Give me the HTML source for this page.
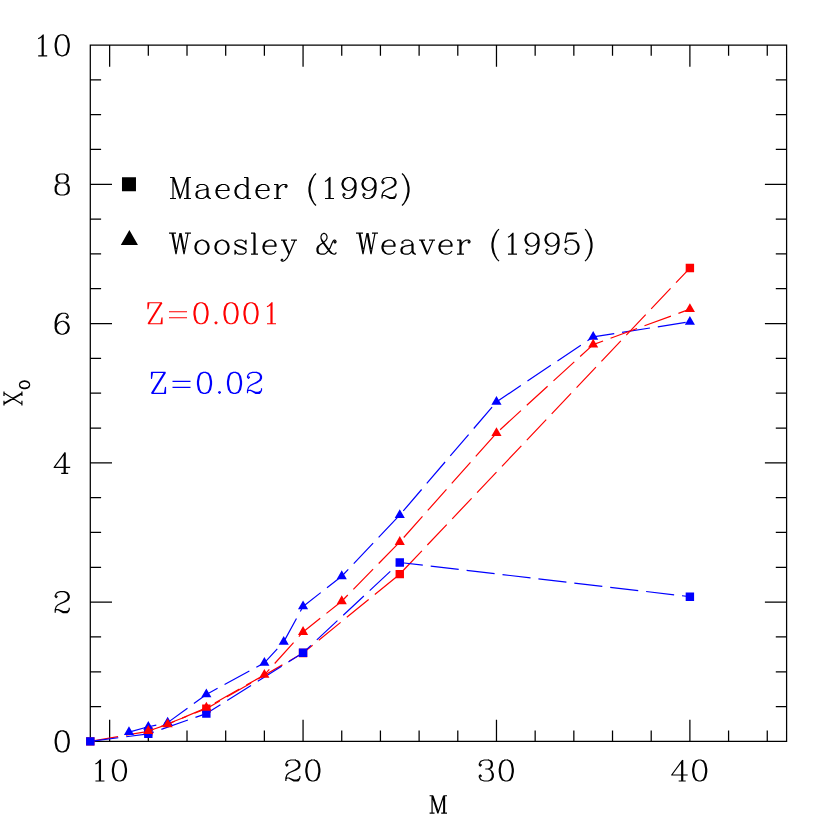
<!DOCTYPE html>
<html><head><meta charset="utf-8"><title>X_O vs M</title>
<style>html,body{margin:0;padding:0;background:#fff;font-family:"Liberation Sans",sans-serif}svg{display:block}</style></head>
<body>
<svg width="830" height="830" viewBox="0 0 830 830">
<rect width="830" height="830" fill="#fff"/>
<path d="M90.3 45H786.6V741.4H90.3ZM109.64 741.4v-21.7M109.64 45v21.7M148.32 741.4v-10.8M148.32 45v10.8M187.01 741.4v-10.8M187.01 45v10.8M225.69 741.4v-10.8M225.69 45v10.8M264.38 741.4v-10.8M264.38 45v10.8M303.06 741.4v-21.7M303.06 45v21.7M341.74 741.4v-10.8M341.74 45v10.8M380.43 741.4v-10.8M380.43 45v10.8M419.11 741.4v-10.8M419.11 45v10.8M457.79 741.4v-10.8M457.79 45v10.8M496.48 741.4v-21.7M496.48 45v21.7M535.16 741.4v-10.8M535.16 45v10.8M573.84 741.4v-10.8M573.84 45v10.8M612.52 741.4v-10.8M612.52 45v10.8M651.21 741.4v-10.8M651.21 45v10.8M689.89 741.4v-21.7M689.89 45v21.7M728.58 741.4v-10.8M728.58 45v10.8M767.26 741.4v-10.8M767.26 45v10.8M90.3 706.58h10.8M786.6 706.58h-10.8M90.3 671.76h10.8M786.6 671.76h-10.8M90.3 636.94h10.8M786.6 636.94h-10.8M90.3 602.12h21.7M786.6 602.12h-21.7M90.3 567.3h10.8M786.6 567.3h-10.8M90.3 532.48h10.8M786.6 532.48h-10.8M90.3 497.66h10.8M786.6 497.66h-10.8M90.3 462.84h21.7M786.6 462.84h-21.7M90.3 428.02h10.8M786.6 428.02h-10.8M90.3 393.2h10.8M786.6 393.2h-10.8M90.3 358.38h10.8M786.6 358.38h-10.8M90.3 323.56h21.7M786.6 323.56h-21.7M90.3 288.74h10.8M786.6 288.74h-10.8M90.3 253.92h10.8M786.6 253.92h-10.8M90.3 219.1h10.8M786.6 219.1h-10.8M90.3 184.28h21.7M786.6 184.28h-21.7M90.3 149.46h10.8M786.6 149.46h-10.8M90.3 114.64h10.8M786.6 114.64h-10.8M90.3 79.82h10.8M786.6 79.82h-10.8" fill="none" stroke="#000" stroke-width="1.25" stroke-linecap="butt" stroke-linejoin="miter"/>
<path d="M95.44 764 97.44 763 100.44 760 100.44 781M99.44 761 99.44 781M95.44 781 104.44 781M118.44 760 115.44 761 113.44 764 112.44 769 112.44 772 113.44 777 115.44 780 118.44 781 120.44 781 123.44 780 125.44 777 126.44 772 126.44 769 125.44 764 123.44 761 120.44 760 118.44 760M118.44 760 116.44 761 115.44 762 114.44 764 113.44 769 113.44 772 114.44 777 115.44 779 116.44 780 118.44 781M120.44 781 122.44 780 123.44 779 124.44 777 125.44 772 125.44 769 124.44 764 123.44 762 122.44 761 120.44 760M286.86 764 287.86 765 286.86 766 285.86 765 285.86 764 286.86 762 287.86 761 290.86 760 294.86 760 297.86 761 298.86 762 299.86 764 299.86 766 298.86 768 295.86 770 290.86 772 288.86 773 286.86 775 285.86 778 285.86 781M294.86 760 296.86 761 297.86 762 298.86 764 298.86 766 297.86 768 294.86 770 290.86 772M285.86 779 286.86 778 288.86 778 293.86 780 296.86 780 298.86 779 299.86 778M288.86 778 293.86 781 297.86 781 298.86 780 299.86 778 299.86 776M311.86 760 308.86 761 306.86 764 305.86 769 305.86 772 306.86 777 308.86 780 311.86 781 313.86 781 316.86 780 318.86 777 319.86 772 319.86 769 318.86 764 316.86 761 313.86 760 311.86 760M311.86 760 309.86 761 308.86 762 307.86 764 306.86 769 306.86 772 307.86 777 308.86 779 309.86 780 311.86 781M313.86 781 315.86 780 316.86 779 317.86 777 318.86 772 318.86 769 317.86 764 316.86 762 315.86 761 313.86 760M480.28 764 481.28 765 480.28 766 479.28 765 479.28 764 480.28 762 481.28 761 484.28 760 488.28 760 491.28 761 492.28 763 492.28 766 491.28 768 488.28 769 485.28 769M488.28 760 490.28 761 491.28 763 491.28 766 490.28 768 488.28 769M488.28 769 490.28 770 492.28 772 493.28 774 493.28 777 492.28 779 491.28 780 488.28 781 484.28 781 481.28 780 480.28 779 479.28 777 479.28 776 480.28 775 481.28 776 480.28 777M491.28 771 492.28 774 492.28 777 491.28 779 490.28 780 488.28 781M505.28 760 502.28 761 500.28 764 499.28 769 499.28 772 500.28 777 502.28 780 505.28 781 507.28 781 510.28 780 512.28 777 513.28 772 513.28 769 512.28 764 510.28 761 507.28 760 505.28 760M505.28 760 503.28 761 502.28 762 501.28 764 500.28 769 500.28 772 501.28 777 502.28 779 503.28 780 505.28 781M507.28 781 509.28 780 510.28 779 511.28 777 512.28 772 512.28 769 511.28 764 510.28 762 509.28 761 507.28 760M681.69 762 681.69 781M682.69 760 682.69 781M682.69 760 671.69 775 687.69 775M678.69 781 685.69 781M698.69 760 695.69 761 693.69 764 692.69 769 692.69 772 693.69 777 695.69 780 698.69 781 700.69 781 703.69 780 705.69 777 706.69 772 706.69 769 705.69 764 703.69 761 700.69 760 698.69 760M698.69 760 696.69 761 695.69 762 694.69 764 693.69 769 693.69 772 694.69 777 695.69 779 696.69 780 698.69 781M700.69 781 702.69 780 703.69 779 704.69 777 705.69 772 705.69 769 704.69 764 703.69 762 702.69 761 700.69 760M61.2 730.9 58.2 731.9 56.2 734.9 55.2 739.9 55.2 742.9 56.2 747.9 58.2 750.9 61.2 751.9 63.2 751.9 66.2 750.9 68.2 747.9 69.2 742.9 69.2 739.9 68.2 734.9 66.2 731.9 63.2 730.9 61.2 730.9M61.2 730.9 59.2 731.9 58.2 732.9 57.2 734.9 56.2 739.9 56.2 742.9 57.2 747.9 58.2 749.9 59.2 750.9 61.2 751.9M63.2 751.9 65.2 750.9 66.2 749.9 67.2 747.9 68.2 742.9 68.2 739.9 67.2 734.9 66.2 732.9 65.2 731.9 63.2 730.9M56.2 595.68 57.2 596.68 56.2 597.68 55.2 596.68 55.2 595.68 56.2 593.68 57.2 592.68 60.2 591.68 64.2 591.68 67.2 592.68 68.2 593.68 69.2 595.68 69.2 597.68 68.2 599.68 65.2 601.68 60.2 603.68 58.2 604.68 56.2 606.68 55.2 609.68 55.2 612.68M64.2 591.68 66.2 592.68 67.2 593.68 68.2 595.68 68.2 597.68 67.2 599.68 64.2 601.68 60.2 603.68M55.2 610.68 56.2 609.68 58.2 609.68 63.2 611.68 66.2 611.68 68.2 610.68 69.2 609.68M58.2 609.68 63.2 612.68 67.2 612.68 68.2 611.68 69.2 609.68 69.2 607.68M64.2 454.46 64.2 473.46M65.2 452.46 65.2 473.46M65.2 452.46 54.2 467.46 70.2 467.46M61.2 473.46 68.2 473.46M67.2 316.24 66.2 317.24 67.2 318.24 68.2 317.24 68.2 316.24 67.2 314.24 65.2 313.24 62.2 313.24 59.2 314.24 57.2 316.24 56.2 318.24 55.2 322.24 55.2 328.24 56.2 331.24 58.2 333.24 61.2 334.24 63.2 334.24 66.2 333.24 68.2 331.24 69.2 328.24 69.2 327.24 68.2 324.24 66.2 322.24 63.2 321.24 62.2 321.24 59.2 322.24 57.2 324.24 56.2 327.24M62.2 313.24 60.2 314.24 58.2 316.24 57.2 318.24 56.2 322.24 56.2 328.24 57.2 331.24 59.2 333.24 61.2 334.24M63.2 334.24 65.2 333.24 67.2 331.24 68.2 328.24 68.2 327.24 67.2 324.24 65.2 322.24 63.2 321.24M60.2 174.02 57.2 175.02 56.2 177.02 56.2 180.02 57.2 182.02 60.2 183.02 64.2 183.02 67.2 182.02 68.2 180.02 68.2 177.02 67.2 175.02 64.2 174.02 60.2 174.02M60.2 174.02 58.2 175.02 57.2 177.02 57.2 180.02 58.2 182.02 60.2 183.02M64.2 183.02 66.2 182.02 67.2 180.02 67.2 177.02 66.2 175.02 64.2 174.02M60.2 183.02 57.2 184.02 56.2 185.02 55.2 187.02 55.2 191.02 56.2 193.02 57.2 194.02 60.2 195.02 64.2 195.02 67.2 194.02 68.2 193.02 69.2 191.02 69.2 187.02 68.2 185.02 67.2 184.02 64.2 183.02M60.2 183.02 58.2 184.02 57.2 185.02 56.2 187.02 56.2 191.02 57.2 193.02 58.2 194.02 60.2 195.02M64.2 195.02 66.2 194.02 67.2 193.02 68.2 191.02 68.2 187.02 67.2 185.02 66.2 184.02 64.2 183.02M38.2 38.8 40.2 37.8 43.2 34.8 43.2 55.8M42.2 35.8 42.2 55.8M38.2 55.8 47.2 55.8M61.2 34.8 58.2 35.8 56.2 38.8 55.2 43.8 55.2 46.8 56.2 51.8 58.2 54.8 61.2 55.8 63.2 55.8 66.2 54.8 68.2 51.8 69.2 46.8 69.2 43.8 68.2 38.8 66.2 35.8 63.2 34.8 61.2 34.8M61.2 34.8 59.2 35.8 58.2 36.8 57.2 38.8 56.2 43.8 56.2 46.8 57.2 51.8 58.2 53.8 59.2 54.8 61.2 55.8M63.2 55.8 65.2 54.8 66.2 53.8 67.2 51.8 68.2 46.8 68.2 43.8 67.2 38.8 66.2 36.8 65.2 35.8 63.2 34.8M432.07 795.77 432.07 813.2M432.91 795.77 437.88 810.71M432.07 795.77 437.88 813.2M443.69 795.77 437.88 813.2M443.69 795.77 443.69 813.2M444.53 795.77 444.53 813.2M429.59 795.77 432.91 795.77M443.69 795.77 447.01 795.77M429.59 813.2 434.56 813.2M441.2 813.2 447.01 813.2M173 177.5 173 198.5M174 177.5 180 195.5M173 177.5 180 198.5M187 177.5 180 198.5M187 177.5 187 198.5M188 177.5 188 198.5M170 177.5 174 177.5M187 177.5 191 177.5M170 198.5 176 198.5M184 198.5 191 198.5M198 186.5 198 187.5 197 187.5 197 186.5 198 185.5 200 184.5 204 184.5 206 185.5 207 186.5 208 188.5 208 195.5 209 197.5 210 198.5M207 186.5 207 195.5 208 197.5 210 198.5 211 198.5M207 188.5 206 189.5 200 190.5 197 191.5 196 193.5 196 195.5 197 197.5 200 198.5 203 198.5 205 197.5 207 195.5M200 190.5 198 191.5 197 193.5 197 195.5 198 197.5 200 198.5M217 190.5 229 190.5 229 188.5 228 186.5 227 185.5 225 184.5 222 184.5 219 185.5 217 187.5 216 190.5 216 192.5 217 195.5 219 197.5 222 198.5 224 198.5 227 197.5 229 195.5M228 190.5 228 187.5 227 185.5M222 184.5 220 185.5 218 187.5 217 190.5 217 192.5 218 195.5 220 197.5 222 198.5M247 177.5 247 198.5M248 177.5 248 198.5M247 187.5 245 185.5 243 184.5 241 184.5 238 185.5 236 187.5 235 190.5 235 192.5 236 195.5 238 197.5 241 198.5 243 198.5 245 197.5 247 195.5M241 184.5 239 185.5 237 187.5 236 190.5 236 192.5 237 195.5 239 197.5 241 198.5M244 177.5 248 177.5M247 198.5 251 198.5M257 190.5 269 190.5 269 188.5 268 186.5 267 185.5 265 184.5 262 184.5 259 185.5 257 187.5 256 190.5 256 192.5 257 195.5 259 197.5 262 198.5 264 198.5 267 197.5 269 195.5M268 190.5 268 187.5 267 185.5M262 184.5 260 185.5 258 187.5 257 190.5 257 192.5 258 195.5 260 197.5 262 198.5M277 184.5 277 198.5M278 184.5 278 198.5M278 190.5 279 187.5 281 185.5 283 184.5 286 184.5 287 185.5 287 186.5 286 187.5 285 186.5 286 185.5M274 184.5 278 184.5M274 198.5 281 198.5M316 173.5 314 175.5 312 178.5 310 182.5 309 187.5 309 191.5 310 196.5 312 200.5 314 203.5 316 205.5M314 175.5 312 179.5 311 182.5 310 187.5 310 191.5 311 196.5 312 199.5 314 203.5M325 181.5 327 180.5 330 177.5 330 198.5M329 178.5 329 198.5M325 198.5 334 198.5M355 184.5 354 187.5 352 189.5 349 190.5 348 190.5 345 189.5 343 187.5 342 184.5 342 183.5 343 180.5 345 178.5 348 177.5 350 177.5 353 178.5 355 180.5 356 183.5 356 189.5 355 193.5 354 195.5 352 197.5 349 198.5 346 198.5 344 197.5 343 195.5 343 194.5 344 193.5 345 194.5 344 195.5M348 190.5 346 189.5 344 187.5 343 184.5 343 183.5 344 180.5 346 178.5 348 177.5M350 177.5 352 178.5 354 180.5 355 183.5 355 189.5 354 193.5 353 195.5 351 197.5 349 198.5M375 184.5 374 187.5 372 189.5 369 190.5 368 190.5 365 189.5 363 187.5 362 184.5 362 183.5 363 180.5 365 178.5 368 177.5 370 177.5 373 178.5 375 180.5 376 183.5 376 189.5 375 193.5 374 195.5 372 197.5 369 198.5 366 198.5 364 197.5 363 195.5 363 194.5 364 193.5 365 194.5 364 195.5M368 190.5 366 189.5 364 187.5 363 184.5 363 183.5 364 180.5 366 178.5 368 177.5M370 177.5 372 178.5 374 180.5 375 183.5 375 189.5 374 193.5 373 195.5 371 197.5 369 198.5M383 181.5 384 182.5 383 183.5 382 182.5 382 181.5 383 179.5 384 178.5 387 177.5 391 177.5 394 178.5 395 179.5 396 181.5 396 183.5 395 185.5 392 187.5 387 189.5 385 190.5 383 192.5 382 195.5 382 198.5M391 177.5 393 178.5 394 179.5 395 181.5 395 183.5 394 185.5 391 187.5 387 189.5M382 196.5 383 195.5 385 195.5 390 197.5 393 197.5 395 196.5 396 195.5M385 195.5 390 198.5 394 198.5 395 197.5 396 195.5 396 193.5M402 173.5 404 175.5 406 178.5 408 182.5 409 187.5 409 191.5 408 196.5 406 200.5 404 203.5 402 205.5M404 175.5 406 179.5 407 182.5 408 187.5 408 191.5 407 196.5 406 199.5 404 203.5M172 233.2 176 254.2M173 233.2 176 249.2M180 233.2 176 254.2M180 233.2 184 254.2M181 233.2 184 249.2M188 233.2 184 254.2M169 233.2 176 233.2M185 233.2 191 233.2M201 240.2 198 241.2 196 243.2 195 246.2 195 248.2 196 251.2 198 253.2 201 254.2 203 254.2 206 253.2 208 251.2 209 248.2 209 246.2 208 243.2 206 241.2 203 240.2 201 240.2M201 240.2 199 241.2 197 243.2 196 246.2 196 248.2 197 251.2 199 253.2 201 254.2M203 254.2 205 253.2 207 251.2 208 248.2 208 246.2 207 243.2 205 241.2 203 240.2M221 240.2 218 241.2 216 243.2 215 246.2 215 248.2 216 251.2 218 253.2 221 254.2 223 254.2 226 253.2 228 251.2 229 248.2 229 246.2 228 243.2 226 241.2 223 240.2 221 240.2M221 240.2 219 241.2 217 243.2 216 246.2 216 248.2 217 251.2 219 253.2 221 254.2M223 254.2 225 253.2 227 251.2 228 248.2 228 246.2 227 243.2 225 241.2 223 240.2M245 242.2 246 240.2 246 244.2 245 242.2 244 241.2 242 240.2 238 240.2 236 241.2 235 242.2 235 244.2 236 245.2 238 246.2 243 248.2 245 249.2 246 250.2M235 243.2 236 244.2 238 245.2 243 247.2 245 248.2 246 249.2 246 252.2 245 253.2 243 254.2 239 254.2 237 253.2 236 252.2 235 250.2 235 254.2 236 252.2M254 233.2 254 254.2M255 233.2 255 254.2M251 233.2 255 233.2M251 254.2 258 254.2M264 246.2 276 246.2 276 244.2 275 242.2 274 241.2 272 240.2 269 240.2 266 241.2 264 243.2 263 246.2 263 248.2 264 251.2 266 253.2 269 254.2 271 254.2 274 253.2 276 251.2M275 246.2 275 243.2 274 241.2M269 240.2 267 241.2 265 243.2 264 246.2 264 248.2 265 251.2 267 253.2 269 254.2M283 240.2 289 254.2M284 240.2 289 252.2M295 240.2 289 254.2 287 258.2 285 260.2 283 261.2 282 261.2 281 260.2 282 259.2 283 260.2M281 240.2 287 240.2M291 240.2 297 240.2M335 241.2 334 242.2 335 243.2 336 242.2 336 241.2 335 240.2 334 240.2 333 241.2 332 243.2 330 248.2 328 251.2 326 253.2 324 254.2 321 254.2 318 253.2 317 251.2 317 248.2 318 246.2 324 242.2 326 240.2 327 238.2 327 236.2 326 234.2 324 233.2 322 234.2 321 236.2 321 238.2 322 241.2 324 244.2 329 251.2 331 253.2 334 254.2 335 254.2 336 253.2 336 252.2M321 254.2 319 253.2 318 251.2 318 248.2 319 246.2 321 244.2M321 238.2 322 240.2 330 251.2 332 253.2 334 254.2M359 233.2 363 254.2M360 233.2 363 249.2M367 233.2 363 254.2M367 233.2 371 254.2M368 233.2 371 249.2M375 233.2 371 254.2M356 233.2 363 233.2M372 233.2 378 233.2M383 246.2 395 246.2 395 244.2 394 242.2 393 241.2 391 240.2 388 240.2 385 241.2 383 243.2 382 246.2 382 248.2 383 251.2 385 253.2 388 254.2 390 254.2 393 253.2 395 251.2M394 246.2 394 243.2 393 241.2M388 240.2 386 241.2 384 243.2 383 246.2 383 248.2 384 251.2 386 253.2 388 254.2M403 242.2 403 243.2 402 243.2 402 242.2 403 241.2 405 240.2 409 240.2 411 241.2 412 242.2 413 244.2 413 251.2 414 253.2 415 254.2M412 242.2 412 251.2 413 253.2 415 254.2 416 254.2M412 244.2 411 245.2 405 246.2 402 247.2 401 249.2 401 251.2 402 253.2 405 254.2 408 254.2 410 253.2 412 251.2M405 246.2 403 247.2 402 249.2 402 251.2 403 253.2 405 254.2M421 240.2 427 254.2M422 240.2 427 252.2M433 240.2 427 254.2M419 240.2 425 240.2M429 240.2 435 240.2M440 246.2 452 246.2 452 244.2 451 242.2 450 241.2 448 240.2 445 240.2 442 241.2 440 243.2 439 246.2 439 248.2 440 251.2 442 253.2 445 254.2 447 254.2 450 253.2 452 251.2M451 246.2 451 243.2 450 241.2M445 240.2 443 241.2 441 243.2 440 246.2 440 248.2 441 251.2 443 253.2 445 254.2M460 240.2 460 254.2M461 240.2 461 254.2M461 246.2 462 243.2 464 241.2 466 240.2 469 240.2 470 241.2 470 242.2 469 243.2 468 242.2 469 241.2M457 240.2 461 240.2M457 254.2 464 254.2M499 229.2 497 231.2 495 234.2 493 238.2 492 243.2 492 247.2 493 252.2 495 256.2 497 259.2 499 261.2M497 231.2 495 235.2 494 238.2 493 243.2 493 247.2 494 252.2 495 255.2 497 259.2M508 237.2 510 236.2 513 233.2 513 254.2M512 234.2 512 254.2M508 254.2 517 254.2M538 240.2 537 243.2 535 245.2 532 246.2 531 246.2 528 245.2 526 243.2 525 240.2 525 239.2 526 236.2 528 234.2 531 233.2 533 233.2 536 234.2 538 236.2 539 239.2 539 245.2 538 249.2 537 251.2 535 253.2 532 254.2 529 254.2 527 253.2 526 251.2 526 250.2 527 249.2 528 250.2 527 251.2M531 246.2 529 245.2 527 243.2 526 240.2 526 239.2 527 236.2 529 234.2 531 233.2M533 233.2 535 234.2 537 236.2 538 239.2 538 245.2 537 249.2 536 251.2 534 253.2 532 254.2M558 240.2 557 243.2 555 245.2 552 246.2 551 246.2 548 245.2 546 243.2 545 240.2 545 239.2 546 236.2 548 234.2 551 233.2 553 233.2 556 234.2 558 236.2 559 239.2 559 245.2 558 249.2 557 251.2 555 253.2 552 254.2 549 254.2 547 253.2 546 251.2 546 250.2 547 249.2 548 250.2 547 251.2M551 246.2 549 245.2 547 243.2 546 240.2 546 239.2 547 236.2 549 234.2 551 233.2M553 233.2 555 234.2 557 236.2 558 239.2 558 245.2 557 249.2 556 251.2 554 253.2 552 254.2M567 233.2 565 243.2M565 243.2 567 241.2 570 240.2 573 240.2 576 241.2 578 243.2 579 246.2 579 248.2 578 251.2 576 253.2 573 254.2 570 254.2 567 253.2 566 252.2 565 250.2 565 249.2 566 248.2 567 249.2 566 250.2M573 240.2 575 241.2 577 243.2 578 246.2 578 248.2 577 251.2 575 253.2 573 254.2M567 233.2 577 233.2M567 234.2 572 234.2 577 233.2M585 229.2 587 231.2 589 234.2 591 238.2 592 243.2 592 247.2 591 252.2 589 256.2 587 259.2 585 261.2M587 231.2 589 235.2 590 238.2 591 243.2 591 247.2 590 252.2 589 255.2 587 259.2" fill="none" stroke="#000" stroke-width="1.2" stroke-linecap="butt" stroke-linejoin="round"/>
<g transform="translate(21.93 406.3) rotate(-90)" fill="none" stroke="#000" stroke-width="1.2" stroke-linecap="butt" stroke-linejoin="round"><path d="M2.35 -17.95 12.56 0M3.14 -17.95 13.35 0M13.35 -17.95 2.35 0M0.79 -17.95 5.5 -17.95M10.21 -17.95 14.92 -17.95M0.79 0 5.5 0M10.21 0 14.92 0"/><path transform="translate(16.21 7.66)" d="M4.8 -10.08 3.36 -9.6 2.4 -8.64 1.92 -7.68 1.44 -5.76 1.44 -4.32 1.92 -2.4 2.4 -1.44 3.36 -0.48 4.8 0 5.76 0 7.2 -0.48 8.16 -1.44 8.64 -2.4 9.12 -4.32 9.12 -5.76 8.64 -7.68 8.16 -8.64 7.2 -9.6 5.76 -10.08 4.8 -10.08M4.8 -10.08 3.84 -9.6 2.88 -8.64 2.4 -7.68 1.92 -5.76 1.92 -4.32 2.4 -2.4 2.88 -1.44 3.84 -0.48 4.8 0M5.76 0 6.72 -0.48 7.68 -1.44 8.16 -2.4 8.64 -4.32 8.64 -5.76 8.16 -7.68 7.68 -8.64 6.72 -9.6 5.76 -10.08"/></g>
<path d="M161 302.74 148 323.74M162 302.74 149 323.74M149 302.74 148 308.74 148 302.74 162 302.74M148 323.74 162 323.74 162 317.74 161 323.74M169 311.74 187 311.74M169 317.74 187 317.74M200 302.74 197 303.74 195 306.74 194 311.74 194 314.74 195 319.74 197 322.74 200 323.74 202 323.74 205 322.74 207 319.74 208 314.74 208 311.74 207 306.74 205 303.74 202 302.74 200 302.74M200 302.74 198 303.74 197 304.74 196 306.74 195 311.74 195 314.74 196 319.74 197 321.74 198 322.74 200 323.74M202 323.74 204 322.74 205 321.74 206 319.74 207 314.74 207 311.74 206 306.74 205 304.74 204 303.74 202 302.74M216 321.74 215 322.74 216 323.74 217 322.74 216 321.74M230 302.74 227 303.74 225 306.74 224 311.74 224 314.74 225 319.74 227 322.74 230 323.74 232 323.74 235 322.74 237 319.74 238 314.74 238 311.74 237 306.74 235 303.74 232 302.74 230 302.74M230 302.74 228 303.74 227 304.74 226 306.74 225 311.74 225 314.74 226 319.74 227 321.74 228 322.74 230 323.74M232 323.74 234 322.74 235 321.74 236 319.74 237 314.74 237 311.74 236 306.74 235 304.74 234 303.74 232 302.74M250 302.74 247 303.74 245 306.74 244 311.74 244 314.74 245 319.74 247 322.74 250 323.74 252 323.74 255 322.74 257 319.74 258 314.74 258 311.74 257 306.74 255 303.74 252 302.74 250 302.74M250 302.74 248 303.74 247 304.74 246 306.74 245 311.74 245 314.74 246 319.74 247 321.74 248 322.74 250 323.74M252 323.74 254 322.74 255 321.74 256 319.74 257 314.74 257 311.74 256 306.74 255 304.74 254 303.74 252 302.74M267 306.74 269 305.74 272 302.74 272 323.74M271 303.74 271 323.74M267 323.74 276 323.74" fill="none" stroke="#f00" stroke-width="1.2" stroke-linecap="butt" stroke-linejoin="round"/>
<path d="M164.5 372.35 151.5 393.35M165.5 372.35 152.5 393.35M152.5 372.35 151.5 378.35 151.5 372.35 165.5 372.35M151.5 393.35 165.5 393.35 165.5 387.35 164.5 393.35M172.5 381.35 190.5 381.35M172.5 387.35 190.5 387.35M203.5 372.35 200.5 373.35 198.5 376.35 197.5 381.35 197.5 384.35 198.5 389.35 200.5 392.35 203.5 393.35 205.5 393.35 208.5 392.35 210.5 389.35 211.5 384.35 211.5 381.35 210.5 376.35 208.5 373.35 205.5 372.35 203.5 372.35M203.5 372.35 201.5 373.35 200.5 374.35 199.5 376.35 198.5 381.35 198.5 384.35 199.5 389.35 200.5 391.35 201.5 392.35 203.5 393.35M205.5 393.35 207.5 392.35 208.5 391.35 209.5 389.35 210.5 384.35 210.5 381.35 209.5 376.35 208.5 374.35 207.5 373.35 205.5 372.35M219.5 391.35 218.5 392.35 219.5 393.35 220.5 392.35 219.5 391.35M233.5 372.35 230.5 373.35 228.5 376.35 227.5 381.35 227.5 384.35 228.5 389.35 230.5 392.35 233.5 393.35 235.5 393.35 238.5 392.35 240.5 389.35 241.5 384.35 241.5 381.35 240.5 376.35 238.5 373.35 235.5 372.35 233.5 372.35M233.5 372.35 231.5 373.35 230.5 374.35 229.5 376.35 228.5 381.35 228.5 384.35 229.5 389.35 230.5 391.35 231.5 392.35 233.5 393.35M235.5 393.35 237.5 392.35 238.5 391.35 239.5 389.35 240.5 384.35 240.5 381.35 239.5 376.35 238.5 374.35 237.5 373.35 235.5 372.35M248.5 376.35 249.5 377.35 248.5 378.35 247.5 377.35 247.5 376.35 248.5 374.35 249.5 373.35 252.5 372.35 256.5 372.35 259.5 373.35 260.5 374.35 261.5 376.35 261.5 378.35 260.5 380.35 257.5 382.35 252.5 384.35 250.5 385.35 248.5 387.35 247.5 390.35 247.5 393.35M256.5 372.35 258.5 373.35 259.5 374.35 260.5 376.35 260.5 378.35 259.5 380.35 256.5 382.35 252.5 384.35M247.5 391.35 248.5 390.35 250.5 390.35 255.5 392.35 258.5 392.35 260.5 391.35 261.5 390.35M250.5 390.35 255.5 393.35 259.5 393.35 260.5 392.35 261.5 390.35 261.5 388.35" fill="none" stroke="#00f" stroke-width="1.2" stroke-linecap="butt" stroke-linejoin="round"/>
<path d="M121.98 177.28h14v14h-14zM129.38 230.09L137.96 244.94L120.81 244.94z" fill="#000"/>
<path d="M90.3 741.4 148.32 731.31 206.35 708.68 303.06 653 399.77 574.13 689.89 268.05" fill="none" stroke="#f00" stroke-width="1.2" stroke-dasharray="28.2 7.95" stroke-linecap="butt" stroke-linejoin="round"/>
<path d="M86.1 737.2h8.4v8.4h-8.4zM144.12 727.11h8.4v8.4h-8.4zM202.15 704.48h8.4v8.4h-8.4zM298.86 648.8h8.4v8.4h-8.4zM395.57 569.93h8.4v8.4h-8.4zM685.69 263.85h8.4v8.4h-8.4z" fill="#f00"/>
<path d="M90.3 741.4 148.32 733.88 206.35 713.56 303.06 652.72 399.77 562.5 689.89 596.68" fill="none" stroke="#00f" stroke-width="1.2" stroke-dasharray="28.2 7.95" stroke-linecap="butt" stroke-linejoin="round"/>
<path d="M86.1 737.2h8.4v8.4h-8.4zM144.12 729.68h8.4v8.4h-8.4zM202.15 709.36h8.4v8.4h-8.4zM298.86 648.52h8.4v8.4h-8.4zM395.57 558.3h8.4v8.4h-8.4zM685.69 592.48h8.4v8.4h-8.4z" fill="#00f"/>
<path d="M128.98 732.07 148.32 726.78 167.67 722.61 206.35 694.41 264.38 662.88 283.72 641.86 303.06 606.43 341.74 576.22 399.77 515.03 496.48 401.91 593.18 336.9 689.89 321.79" fill="none" stroke="#00f" stroke-width="1.2" stroke-dasharray="28.2 7.95" stroke-linecap="butt" stroke-linejoin="round"/>
<path d="M128.98 726.22L134.05 735L123.92 735zM148.32 720.93L153.39 729.71L143.26 729.71zM167.67 716.76L172.73 725.53L162.6 725.53zM206.35 688.56L211.42 697.34L201.28 697.34zM264.38 657.03L269.44 665.8L259.31 665.8zM283.72 636.01L288.78 644.78L278.65 644.78zM303.06 600.58L308.12 609.35L297.99 609.35zM341.74 570.37L346.81 579.14L336.68 579.14zM399.77 509.18L404.83 517.95L394.7 517.95zM496.48 396.06L501.54 404.84L491.41 404.84zM593.18 331.05L598.25 339.82L588.12 339.82zM689.89 315.94L694.96 324.72L684.83 324.72z" fill="#00f"/>
<path d="M148.32 730.96 167.67 724.35 206.35 707.71 264.38 674.92 303.06 631.97 341.74 601.21 399.77 541.97 496.48 433.03 593.18 344.62 689.89 309.12" fill="none" stroke="#f00" stroke-width="1.2" stroke-dasharray="28.2 7.95" stroke-linecap="butt" stroke-linejoin="round"/>
<path d="M148.32 725.11L153.39 733.88L143.26 733.88zM167.67 718.5L172.73 727.27L162.6 727.27zM206.35 701.86L211.42 710.63L201.28 710.63zM264.38 669.07L269.44 677.85L259.31 677.85zM303.06 626.12L308.12 634.9L297.99 634.9zM341.74 595.36L346.81 604.13L336.68 604.13zM399.77 536.12L404.83 544.89L394.7 544.89zM496.48 427.18L501.54 435.95L491.41 435.95zM593.18 338.77L598.25 347.55L588.12 347.55zM689.89 303.27L694.96 312.05L684.83 312.05z" fill="#f00"/>
</svg>
</body></html>
